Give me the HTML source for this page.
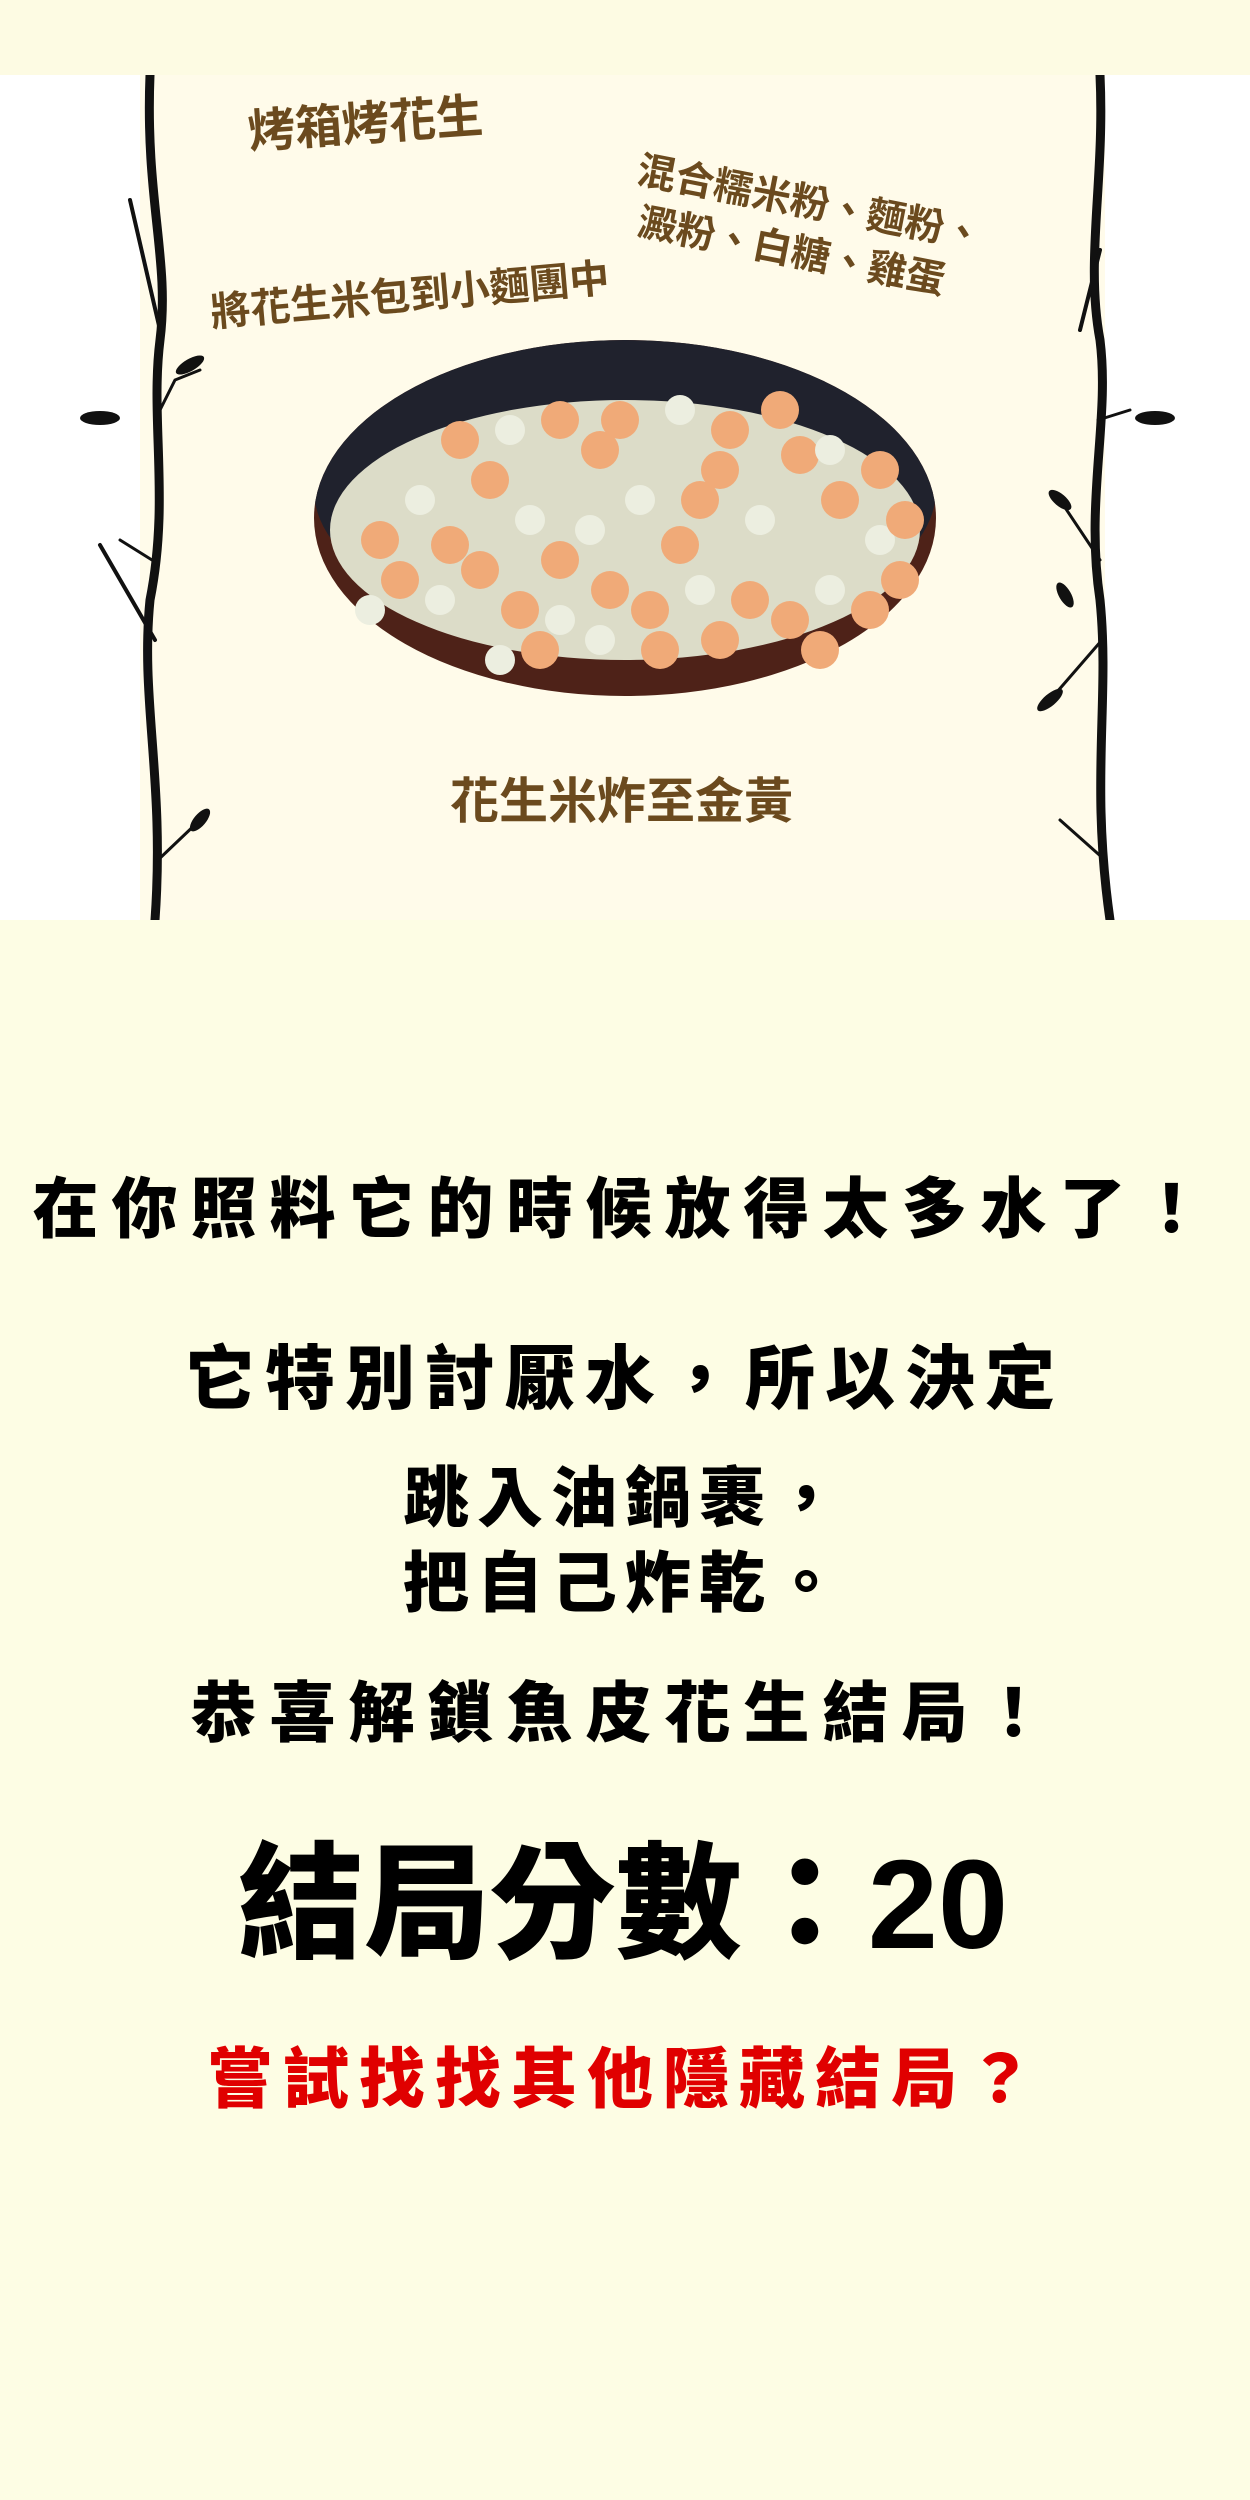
<!DOCTYPE html>
<html><head><meta charset="utf-8">
<style>
html,body{margin:0;padding:0}
body{width:1250px;height:2500px;background:#fdfde4;position:relative;overflow:hidden;font-family:"Liberation Sans","Noto Sans CJK TC",sans-serif}
.t{position:absolute;left:0;width:1250px;text-align:center;font-weight:900;color:#000;white-space:nowrap;line-height:1}
.b{position:absolute;color:#6b4a1e;font-weight:700;white-space:nowrap;line-height:1;font-family:"Liberation Sans","Noto Sans CJK TC",sans-serif}
</style></head><body>
<div style="position:absolute;left:0;top:0;width:1250px;height:75px;background:#fdfbe3"></div>
<svg style="position:absolute;left:0;top:75px" width="1250" height="845" viewBox="0 75 1250 845">
<rect x="0" y="75" width="1250" height="845" fill="#ffffff"/>
<rect x="140" y="75" width="965" height="845" fill="#fffbea"/>
<g fill="none" stroke="#111" stroke-linecap="round">
<path d="M150 75 C145 200,170 260,160 340 C150 420,170 500,150 600 C140 700,165 780,155 920" stroke-width="9"/>
<path d="M160 330 L130 200" stroke-width="4"/>
<path d="M155 420 L175 380 L200 370" stroke-width="3"/>
<path d="M152 560 L120 540" stroke-width="3"/>
<path d="M155 640 L100 545" stroke-width="4"/>
<path d="M158 860 L200 820" stroke-width="3"/>
</g>
<g fill="#111"><ellipse cx="100" cy="418" rx="20" ry="7"/><ellipse cx="190" cy="365" rx="16" ry="6" transform="rotate(-30 190 365)"/><ellipse cx="200" cy="820" rx="14" ry="6" transform="rotate(-50 200 820)"/></g>
<g fill="none" stroke="#111" stroke-linecap="round">
<path d="M1100 75 C1105 180,1085 260,1100 340 C1110 420,1085 500,1100 600 C1110 700,1090 780,1110 920" stroke-width="9"/>
<path d="M1100 250 L1080 330" stroke-width="4"/>
<path d="M1098 420 L1130 410" stroke-width="3"/>
<path d="M1100 560 L1060 500" stroke-width="3"/>
<path d="M1102 640 L1050 700" stroke-width="3"/>
<path d="M1105 860 L1060 820" stroke-width="3"/>
</g>
<g fill="#111"><ellipse cx="1155" cy="418" rx="20" ry="7"/><ellipse cx="1060" cy="500" rx="14" ry="6" transform="rotate(40 1060 500)"/><ellipse cx="1050" cy="700" rx="16" ry="6" transform="rotate(-40 1050 700)"/><ellipse cx="1065" cy="595" rx="14" ry="6" transform="rotate(60 1065 595)"/></g>
<defs><clipPath id="pan"><ellipse cx="625" cy="518" rx="311" ry="178"/></clipPath></defs>
<g>
<ellipse cx="625" cy="518" rx="311" ry="178" fill="#4e2218"/>
<ellipse cx="625" cy="490" rx="311" ry="150" fill="#20222d" clip-path="url(#pan)"/>
<ellipse cx="625" cy="530" rx="295" ry="130" fill="#dcdcc8"/>
<g id="balls"></g>
</g>
</svg>
<div class="b" style="left:248px;top:100px;font-size:47px;transform:rotate(-4deg)">烤箱烤花生</div>
<div class="b" style="left:642px;top:146px;font-size:39px;transform:rotate(11deg);transform-origin:left top;line-height:1.3">混合糯米粉、麵粉、<br>&nbsp;澱粉、白糖、雞蛋</div>
<div class="b" style="left:210px;top:276px;font-size:40px;transform:rotate(-5deg)">將花生米包到小麵團中</div>
<div class="b" style="left:450px;top:778px;font-size:49px">花生米炸至金黃</div>

<div class="t" style="top:1176px;font-size:66px;letter-spacing:13px">在你照料它的時候放得太多水了！</div>
<div class="t" style="top:1344px;font-size:70px;letter-spacing:10px">它特別討厭水，所以決定</div>
<div class="t" style="top:1465px;font-size:66px;letter-spacing:8px">跳入油鍋裹，</div>
<div class="t" style="top:1550px;font-size:66px;letter-spacing:8px">把自己炸乾。</div>
<div class="t" style="top:1680px;font-size:66px;letter-spacing:13px">恭喜解鎖魚皮花生結局！</div>
<div class="t" style="top:1842px;font-size:126px;left:-2px">結局分數：20</div>
<div class="t" style="top:2046px;font-size:66px;letter-spacing:10px;color:#e00000">嘗試找找其他隱藏結局？</div>
<script>
var bx=[420,450,490,530,560,600,640,680,720,760,800,840,880,905,400,440,480,520,560,610,650,700,750,790,830,870,460,510,560,620,680,730,780,830,880,540,600,660,720,500,820,380,370,900,700,590];
var by=[500,545,480,520,560,450,500,545,470,520,455,500,540,520,580,600,570,610,620,590,610,590,600,620,590,610,440,430,420,420,410,430,410,450,470,650,640,650,640,660,650,540,610,580,500,530];
var g=document.getElementById('balls');
for(var i=0;i<bx.length;i++){
 var c=document.createElementNS('http://www.w3.org/2000/svg','circle');
 
 
 c.setAttribute('cx',bx[i]);c.setAttribute('cy',by[i]);c.setAttribute('r',i%3==0?15:19);
 c.setAttribute('fill',i%3==0?'#eceee0':'#f0aa78');
 g.appendChild(c);
}
</script>
</body></html>
